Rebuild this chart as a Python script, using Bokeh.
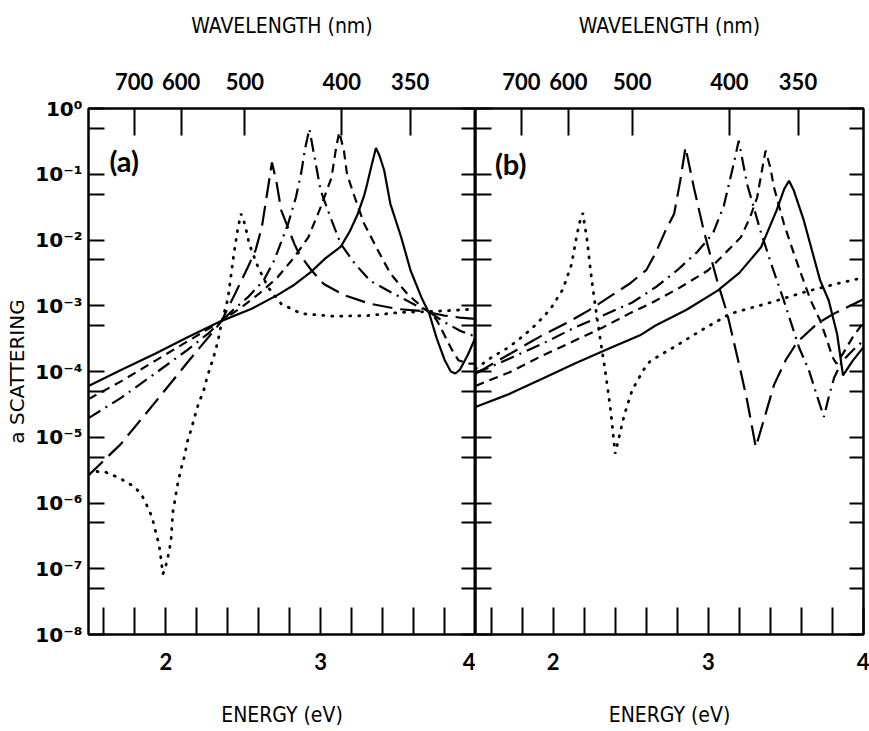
from bokeh.plotting import figure
from bokeh.models import Range1d, LinearAxis, LogAxis, FixedTicker, Label
from bokeh.layouts import row
from bokeh.embed import file_html
from bokeh.resources import INLINE

# ---------------- axis ticks / labels ----------------
energy_ticks = [1.6, 1.8, 2.0, 2.2, 2.4, 2.6, 2.8, 3.0, 3.2, 3.4, 3.6, 3.8, 4.0]
energy_labels = ["", "", "2", "", "", "", "", "3", "", "", "", "", "4"]
wavelength_labels = ["700", "600", "500", "400", "350"]
wavelength_tick_ev = [1.795, 2.098, 2.51, 3.136, 3.578]
decade_ticks = [1e-8, 1e-7, 1e-6, 1e-5, 1e-4, 1e-3, 1e-2, 1e-1, 1.0]
decade_labels = ["10⁻⁸", "10⁻⁷", "10⁻⁶", "10⁻⁵", "10⁻⁴", "10⁻³", "10⁻²", "10⁻¹", "10⁰"]
half_ticks = [5e-8, 5e-7, 5e-6, 5e-5, 5e-4, 5e-3, 5e-2, 5e-1]

# ---------------- panel (a) ----------------
a_solid_e = [1.50, 1.71, 1.93, 2.14, 2.36, 2.55, 2.72, 2.83, 2.94, 3.03, 3.13, 3.19, 3.24, 3.28, 3.30,
             3.33, 3.357, 3.38, 3.41, 3.45, 3.52, 3.58, 3.65, 3.70, 3.75, 3.80, 3.84, 3.87, 3.90, 3.95,
             4.00]
a_solid_v = [6.03e-5, 1.05e-4, 1.86e-4, 3.31e-4, 5.89e-4, 8.91e-4, 1.45e-3, 2.09e-3, 3.31e-3, 5.25e-3,
             7.94e-3, 1.38e-2, 2.51e-2, 4.68e-2, 7.08e-2, 0.141, 0.251, 0.191, 0.115, 3.55e-2, 1.10e-2,
             3.47e-3, 1.35e-3, 7.76e-4, 3.16e-4, 1.51e-4, 1.0e-4, 9.33e-5, 1.07e-4, 1.78e-4, 3.31e-4]

a_ldash_e = [1.50, 1.71, 1.93, 2.14, 2.31, 2.36, 2.45, 2.53, 2.58, 2.62, 2.65, 2.685, 2.713, 2.745, 2.77,
             2.83, 2.86, 2.94, 3.02, 3.15, 3.32, 3.50, 3.65, 3.72, 3.80, 3.90, 4.00]
a_ldash_v = [2.63e-6, 7.94e-6, 3.39e-5, 1.38e-4, 4.17e-4, 5.89e-4, 1.58e-3, 3.89e-3, 7.08e-3, 1.58e-2,
             4.47e-2, 0.151, 7.94e-2, 2.82e-2, 2.0e-2, 8.71e-3, 6.17e-3, 3.47e-3, 2.14e-3, 1.45e-3,
             1.07e-3, 8.91e-4, 8.32e-4, 7.76e-4, 7.08e-4, 6.61e-4, 6.31e-4]

a_dashdot_e = [1.50, 1.71, 1.93, 2.14, 2.27, 2.36, 2.45, 2.53, 2.63, 2.70, 2.79, 2.84, 2.874, 2.90, 2.927,
               2.96, 3.00, 3.07, 3.13, 3.22, 3.32, 3.45, 3.58, 3.71, 3.80, 3.90, 4.00]
a_dashdot_v = [1.95e-5, 3.98e-5, 9.33e-5, 2.14e-4, 3.72e-4, 5.89e-4, 9.33e-4, 1.35e-3, 2.40e-3, 4.90e-3,
               1.78e-2, 4.47e-2, 0.105, 0.251, 0.490, 0.182, 5.62e-2, 2.0e-2, 8.71e-3, 4.37e-3, 2.40e-3,
               1.62e-3, 1.12e-3, 7.76e-4, 5.62e-4, 4.17e-4, 3.39e-4]

a_sdash_e = [1.50, 1.71, 1.93, 2.14, 2.36, 2.49, 2.60, 2.72, 2.83, 2.92, 3.00, 3.07, 3.10, 3.12, 3.15,
             3.17, 3.22, 3.28, 3.37, 3.45, 3.56, 3.67, 3.71, 3.75, 3.85, 3.89, 3.95, 4.00]
a_sdash_v = [3.80e-5, 7.08e-5, 1.45e-4, 2.88e-4, 5.89e-4, 9.55e-4, 1.51e-3, 2.69e-3, 5.50e-3, 1.10e-2,
             3.16e-2, 8.91e-2, 0.257, 0.437, 0.229, 0.100, 4.47e-2, 1.78e-2, 6.92e-3, 3.09e-3, 1.51e-3,
             8.91e-4, 7.76e-4, 6.03e-4, 2.09e-4, 1.48e-4, 1.32e-4, 1.32e-4]

a_dot_e = [1.50, 1.55, 1.61, 1.70, 1.80, 1.844, 1.88, 1.91, 1.934, 1.956, 1.97, 1.98, 1.995, 2.016, 2.033,
           2.045, 2.076, 2.097, 2.119, 2.138, 2.161, 2.21, 2.243, 2.264, 2.29, 2.316, 2.338, 2.36, 2.40,
           2.42, 2.44, 2.463, 2.485, 2.50, 2.517, 2.538, 2.595, 2.66, 2.745, 2.874, 3.09, 3.30, 3.52,
           3.69, 3.85, 4.00]
a_dot_v = [2.75e-6, 3.02e-6, 2.95e-6, 2.40e-6, 1.74e-6, 1.32e-6, 8.91e-7, 6.17e-7, 3.63e-7, 2.29e-7,
           1.32e-7, 8.32e-8, 1.0e-7, 1.62e-7, 2.69e-7, 7.24e-7, 1.95e-6, 3.24e-6, 5.01e-6, 8.51e-6,
           1.26e-5, 3.24e-5, 5.01e-5, 7.76e-5, 1.23e-4, 1.91e-4, 3.02e-4, 5.62e-4, 1.26e-3, 2.82e-3,
           6.31e-3, 1.41e-2, 2.51e-2, 2.09e-2, 1.48e-2, 8.71e-3, 3.89e-3, 1.91e-3, 1.07e-3, 7.59e-4,
           6.92e-4, 7.08e-4, 7.94e-4, 8.13e-4, 8.51e-4, 8.91e-4]

# ---------------- panel (b) ----------------
b_solid_e = [1.50, 1.72, 1.93, 2.14, 2.36, 2.56, 2.66, 2.86, 3.06, 3.20, 3.34, 3.44, 3.49, 3.52, 3.55,
             3.615, 3.72, 3.776, 3.83, 3.868, 3.93, 4.00]
b_solid_v = [2.88e-5, 4.57e-5, 7.76e-5, 1.32e-4, 2.24e-4, 3.55e-4, 5.01e-4, 8.71e-4, 1.70e-3, 3.16e-3,
             7.76e-3, 2.82e-2, 6.03e-2, 7.94e-2, 5.75e-2, 2.0e-2, 2.45e-3, 1.20e-3, 3.72e-4, 8.71e-5,
             1.45e-4, 2.34e-4]

b_sdash_e = [1.50, 1.72, 1.93, 2.14, 2.32, 2.49, 2.64, 2.82, 3.00, 3.21, 3.27, 3.315, 3.345, 3.369, 3.40,
             3.423, 3.487, 3.552, 3.606, 3.66, 3.72, 3.766, 3.80, 3.825, 3.87, 3.93, 4.00]
b_sdash_v = [6.03e-5, 9.77e-5, 1.74e-4, 2.95e-4, 4.68e-4, 7.59e-4, 1.12e-3, 1.91e-3, 3.47e-3, 1.10e-2,
             2.24e-2, 4.47e-2, 0.112, 0.229, 0.126, 6.31e-2, 1.78e-2, 6.17e-3, 2.69e-3, 1.20e-3,
             6.03e-4, 2.95e-4, 1.66e-4, 1.32e-4, 1.91e-4, 3.31e-4, 5.62e-4]

b_dashdot_e = [1.50, 1.72, 1.93, 2.14, 2.32, 2.51, 2.66, 2.80, 2.93, 3.03, 3.10, 3.164, 3.196, 3.25,
               3.336, 3.412, 3.487, 3.584, 3.648, 3.703, 3.745, 3.78, 3.81, 3.86, 3.93, 4.00]
b_dashdot_v = [9.33e-5, 1.58e-4, 2.63e-4, 4.68e-4, 7.08e-4, 1.12e-3, 1.91e-3, 3.47e-3, 6.61e-3, 1.26e-2,
               3.31e-2, 0.145, 0.324, 7.08e-2, 1.38e-2, 3.89e-3, 1.20e-3, 2.34e-4, 1.05e-4, 4.07e-5,
               2.04e-5, 4.47e-5, 7.94e-5, 1.41e-4, 2.09e-4, 2.95e-4]

b_ldash_e = [1.50, 1.54, 1.76, 1.93, 2.08, 2.23, 2.36, 2.49, 2.60, 2.66, 2.72, 2.78, 2.82, 2.853, 2.907,
             2.971, 3.057, 3.122, 3.207, 3.25, 3.306, 3.36, 3.424, 3.50, 3.574, 3.703, 3.81, 3.94, 4.00]
b_ldash_v = [9.55e-5, 1.05e-4, 2.09e-4, 3.55e-4, 5.37e-4, 8.51e-4, 1.35e-3, 2.14e-3, 3.47e-3, 6.31e-3,
             1.32e-2, 2.51e-2, 8.13e-2, 0.257, 6.31e-2, 1.38e-2, 2.40e-3, 7.59e-4, 1.05e-4, 3.63e-5,
             7.08e-6, 1.91e-5, 6.31e-5, 1.51e-4, 2.82e-4, 5.37e-4, 7.59e-4, 1.07e-3, 1.26e-3]

b_dot_e = [1.50, 1.553, 1.607, 1.715, 1.812, 1.897, 1.983, 2.063, 2.119, 2.151, 2.17, 2.192, 2.22, 2.241,
           2.265, 2.306, 2.334, 2.36, 2.371, 2.40, 2.43, 2.46, 2.51, 2.584, 2.627, 2.778, 2.95, 3.143,
           3.40, 3.637, 3.82, 4.00]
b_dot_v = [1.10e-4, 1.35e-4, 1.66e-4, 2.34e-4, 3.55e-4, 5.37e-4, 8.91e-4, 1.78e-3, 4.27e-3, 1.12e-2,
           1.82e-2, 2.57e-2, 9.55e-3, 3.47e-3, 1.29e-3, 2.88e-4, 1.10e-4, 3.98e-5, 2.51e-5, 5.62e-6,
           1.12e-5, 2.24e-5, 5.25e-5, 1.07e-4, 1.45e-4, 2.34e-4, 4.17e-4, 7.59e-4, 1.12e-3, 1.66e-3,
           2.14e-3, 2.69e-3]

# ---------------- styling ----------------
TICK_FONT = "Lato"
TITLE_FONT = "DejaVu Sans Condensed"
STYLES = {
    "solid": dict(line_dash="solid", line_width=2.2),
    "sdash": dict(line_dash="9 6", line_width=2.2),
    "ldash": dict(line_dash="20 8", line_width=2.2),
    "dashdot": dict(line_dash="14 6 2 6", line_width=2.2),
    "dot": dict(line_dash="1 8", line_width=2.8, line_cap="round"),
}

H = 731
FRAME_TOP = 108
FRAME_BOTTOM = 97


def style_axis(ax, tick_len):
    ax.axis_line_width = 2
    ax.axis_line_color = "black"
    ax.major_tick_line_width = 2
    ax.major_tick_line_color = "black"
    ax.major_tick_in = tick_len
    ax.major_tick_out = 0
    ax.minor_tick_line_color = None
    ax.major_label_text_color = "black"
    ax.axis_label_text_color = "black"


def make_panel(width, border_left, border_right, series, left_labels):
    p = figure(width=width, height=H, output_backend="svg", toolbar_location=None,
               y_axis_type="log", x_range=Range1d(1.5, 4.0), y_range=Range1d(1e-8, 1.0),
               min_border_left=border_left, min_border_right=border_right,
               min_border_top=FRAME_TOP, min_border_bottom=FRAME_BOTTOM)
    p.grid.visible = False
    p.background_fill_color = "white"
    p.border_fill_color = "white"
    p.outline_line_color = "black"
    p.outline_line_width = 2

    y_ticks = decade_ticks + half_ticks
    y_over = {t: lab for t, lab in zip(decade_ticks, decade_labels)}
    y_over.update({t: "" for t in half_ticks})
    y_blank = {t: "" for t in y_ticks}

    # bottom energy axis
    xa = p.xaxis[0]
    xa.ticker = FixedTicker(ticks=energy_ticks)
    xa.major_label_overrides = {t: lab for t, lab in zip(energy_ticks, energy_labels)}
    style_axis(xa, 27)
    xa.major_label_text_font = TICK_FONT
    xa.major_label_text_font_style = "bold"
    xa.major_label_text_font_size = "22px"
    xa.major_label_standoff = 18
    xa.axis_label = "ENERGY (eV)"
    xa.axis_label_text_font = TITLE_FONT
    xa.axis_label_text_font_style = "normal"
    xa.axis_label_text_font_size = "21px"
    xa.axis_label_standoff = 30

    # left log axis
    ya = p.yaxis[0]
    ya.ticker = FixedTicker(ticks=y_ticks)
    style_axis(ya, 16)
    if left_labels:
        ya.major_label_overrides = y_over
        ya.major_label_text_font = "DejaVu Sans"
        ya.major_label_text_font_style = "bold"
        ya.major_label_text_font_size = "20px"
        ya.major_label_standoff = 6
        ya.axis_label = "a SCATTERING"
        ya.axis_label_text_font = "DejaVu Sans"
        ya.axis_label_text_font_style = "normal"
        ya.axis_label_text_font_size = "20px"
        ya.axis_label_standoff = 3
    else:
        ya.major_label_overrides = y_blank
        ya.major_label_standoff = 0

    # right log axis (ticks only)
    yr = LogAxis(ticker=FixedTicker(ticks=y_ticks))
    style_axis(yr, 14)
    yr.major_label_overrides = y_blank
    yr.major_label_standoff = 0
    p.add_layout(yr, "right")

    # top wavelength axis
    xt = LinearAxis(ticker=FixedTicker(ticks=wavelength_tick_ev))
    xt.major_label_overrides = {t: lab for t, lab in zip(wavelength_tick_ev, wavelength_labels)}
    style_axis(xt, 27)
    xt.major_label_text_font = TICK_FONT
    xt.major_label_text_font_style = "bold"
    xt.major_label_text_font_size = "22px"
    xt.major_label_standoff = 19
    xt.axis_label = "WAVELENGTH (nm)"
    xt.axis_label_text_font = TITLE_FONT
    xt.axis_label_text_font_style = "normal"
    xt.axis_label_text_font_size = "21px"
    xt.axis_label_standoff = 32
    p.add_layout(xt, "above")

    for key, xs, ys in series:
        p.line(xs, ys, line_color="black", **STYLES[key])
    return p


p1 = make_panel(475, 88, 0, [
    ("dot", a_dot_e, a_dot_v),
    ("ldash", a_ldash_e, a_ldash_v),
    ("dashdot", a_dashdot_e, a_dashdot_v),
    ("sdash", a_sdash_e, a_sdash_v),
    ("solid", a_solid_e, a_solid_v),
], True)

p2 = make_panel(394, 0, 6, [
    ("dot", b_dot_e, b_dot_v),
    ("ldash", b_ldash_e, b_ldash_v),
    ("dashdot", b_dashdot_e, b_dashdot_v),
    ("sdash", b_sdash_e, b_sdash_v),
    ("solid", b_solid_e, b_solid_v),
], False)

p1.add_layout(Label(x=1.635, y=0.162, text="(a)", text_font=TICK_FONT, text_font_style="bold",
                    text_font_size="29px", text_color="black", text_baseline="middle",
                    text_align="left"))
p2.add_layout(Label(x=1.625, y=0.145, text="(b)", text_font=TICK_FONT, text_font_style="bold",
                    text_font_size="29px", text_color="black", text_baseline="middle",
                    text_align="left"))

layout = row(p1, p2)
open("out.html", "w").write(file_html(layout, INLINE))
